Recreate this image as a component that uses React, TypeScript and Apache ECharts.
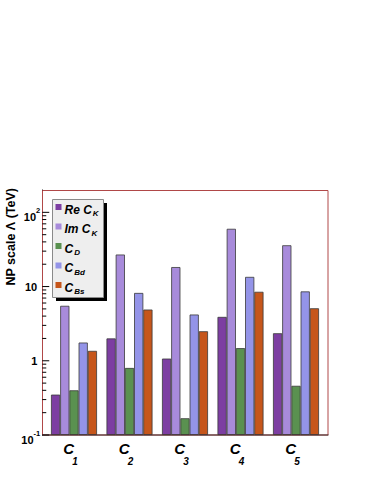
import React, { useEffect, useRef } from 'react';
import * as echarts from 'echarts';

// ---- data ----
const categories = ['C1', 'C2', 'C3', 'C4', 'C5'];
const categorySubscripts = ['1', '2', '3', '4', '5'];

const seriesNames = ['Re CK', 'Im CK', 'CD', 'CBd', 'CBs'];
const legendMainText = ['Re C', 'Im C', 'C', 'C', 'C'];
const legendSubText = ['K', 'K', 'D', 'Bd', 'Bs'];

const reCK = [0.35, 2.0, 1.07, 3.9, 2.35];
const imCK = [5.5, 27, 18.3, 60, 36];
const cD = [0.4, 0.8, 0.168, 1.48, 0.46];
const cBd = [1.76, 8.2, 4.2, 13.5, 8.6];
const cBs = [1.36, 4.9, 2.5, 8.5, 5.1];

const yMajorTickValues = [0.1, 1, 10, 100];
const yTickLabelBase = ['10', '1', '10', '10'];
const yTickLabelExp = ['-1', '', '', '2'];
const yMinorTickValues = [
  0.2, 0.3, 0.4, 0.5, 0.6, 0.7, 0.8, 0.9,
  2, 3, 4, 5, 6, 7, 8, 9,
  20, 30, 40, 50, 60, 70, 80, 90,
];

const yMin = 0.1;
const yMax = 200;
const yTitle = 'NP scale \u039B (TeV)';

// ---- style ----
const FONT = '"Liberation Sans", Arial, Helvetica, sans-serif';
const colors = ['#7d3ea2', '#a88bdb', '#5a9150', '#9494e8', '#c6561b'];
const seriesData = [reCK, imCK, cD, cBd, cBs];

export default function App() {
  const ref = useRef<HTMLDivElement>(null);

  useEffect(() => {
    if (!ref.current) return;
    const chart = echarts.init(ref.current, undefined, { renderer: 'svg' });

    const tickData: number[][] = [
      ...yMajorTickValues.map((v) => [0, v, 7]),
      ...yMinorTickValues.map((v) => [0, v, 4]),
    ];

    const option: any = {
      animation: false,
      backgroundColor: '#ffffff',
      textStyle: { fontFamily: FONT },
      grid: { left: 46.25, right: 50.25, top: 190, bottom: 49, containLabel: false },
      legend: {
        show: true,
        orient: 'vertical',
        left: 55.5,
        top: 200.5,
        padding: 0,
        itemGap: 2.5,
        itemWidth: 6,
        itemHeight: 6,
        icon: 'rect',
        z: 10,
        data: seriesNames,
        itemStyle: { borderWidth: 0 },
        formatter: (name: string) => {
          const i = seriesNames.indexOf(name);
          return `{b|${legendMainText[i]}}{s|${legendSubText[i]}}`;
        },
        textStyle: {
          fontFamily: FONT,
          color: '#000',
          padding: [0, 0, 0, -2],
          rich: {
            b: {
              fontFamily: FONT,
              fontSize: 12,
              fontWeight: 'bold',
              fontStyle: 'italic',
              color: '#000',
              lineHeight: 13,
              padding: [3, 0, 0, 0],
              verticalAlign: 'top',
            },
            s: {
              fontFamily: FONT,
              fontSize: 8,
              fontWeight: 'bold',
              fontStyle: 'italic',
              color: '#000',
              lineHeight: 8,
              padding: [9, 0, 0, 1],
              verticalAlign: 'top',
            },
          },
        },
      },
      xAxis: {
        type: 'category',
        data: categories,
        axisLine: { show: false },
        axisTick: { show: false },
        splitLine: { show: false },
        axisLabel: {
          margin: 6,
          interval: 0,
          formatter: (_v: string, i: number) => `{c|C}{n|${categorySubscripts[i]}}`,
          rich: {
            c: {
              fontFamily: FONT,
              fontSize: 15,
              fontWeight: 'bold',
              fontStyle: 'italic',
              color: '#000',
              lineHeight: 15,
              verticalAlign: 'top',
            },
            n: {
              fontFamily: FONT,
              fontSize: 10,
              fontWeight: 'bold',
              fontStyle: 'italic',
              color: '#000',
              lineHeight: 10,
              padding: [15, 7, 0, -2],
              verticalAlign: 'top',
            },
          },
        },
      },
      yAxis: {
        type: 'log',
        logBase: 10,
        min: yMin,
        max: yMax,
        startValue: yMin,
        offset: 4,
        axisLine: { show: true, lineStyle: { color: '#000', width: 1 } },
        axisTick: { show: false },
        splitLine: { show: false },
        axisLabel: {
          margin: 2,
          formatter: (v: number) => {
            const idx = yMajorTickValues.findIndex((t) => Math.abs(t - v) / t < 1e-6);
            if (idx < 0) return '';
            const exp = yTickLabelExp[idx];
            if (exp) return `{m|${yTickLabelBase[idx]}}{e|${exp}}`;
            return `{p|${yTickLabelBase[idx]}}`;
          },
          rich: {
            m: {
              fontFamily: FONT,
              fontSize: 11,
              fontWeight: 'bold',
              color: '#000',
              lineHeight: 11,
              padding: [5, 0, 0, 0],
              verticalAlign: 'top',
            },
            e: {
              fontFamily: FONT,
              fontSize: 7.5,
              fontWeight: 'bold',
              color: '#000',
              lineHeight: 8,
              verticalAlign: 'top',
            },
            p: {
              fontFamily: FONT,
              fontSize: 11,
              fontWeight: 'bold',
              color: '#000',
              lineHeight: 11,
              padding: [0, 3, 0, 0],
            },
          },
        },
      },
      graphic: [
        {
          type: 'rect',
          z: 1,
          silent: true,
          shape: { x: 42.5, y: 190.5, width: 285.5, height: 244.5 },
          style: { fill: 'none', stroke: '#b04848', lineWidth: 1 },
        },
        {
          type: 'line',
          z: 3,
          silent: true,
          shape: { x1: 42, y1: 435, x2: 328.5, y2: 435 },
          style: { stroke: '#3a2a2a', lineWidth: 1 },
        },
        {
          type: 'rect',
          z: 5,
          silent: true,
          shape: { x: 56, y: 203, width: 51, height: 98 },
          style: { fill: '#000' },
        },
        {
          type: 'rect',
          z: 6,
          silent: true,
          shape: { x: 52.5, y: 199.5, width: 51, height: 98 },
          style: { fill: '#eeeeee', stroke: '#8a8a8a', lineWidth: 1 },
        },
        {
          type: 'text',
          z: 6,
          silent: true,
          x: 11,
          y: 188,
          rotation: Math.PI / 2,
          style: {
            text: yTitle,
            fill: '#000',
            font: `bold 12.5px ${FONT}`,
            align: 'right',
            verticalAlign: 'middle',
            textAlign: 'right',
            textVerticalAlign: 'middle',
          },
        },
      ],
      series: [
        ...seriesNames.map((name, i) => ({
          name,
          type: 'bar',
          data: seriesData[i],
          barWidth: 9.2,
          barGap: '0%',
          z: 2,
          itemStyle: {
            color: colors[i],
            borderColor: '#3a3a3a',
            borderWidth: 0.8,
          },
        })),
        {
          type: 'custom',
          coordinateSystem: 'cartesian2d',
          silent: true,
          clip: false,
          z: 4,
          data: tickData,
          encode: { x: 0, y: 1 },
          renderItem: (params: any, api: any) => {
            const y = api.coord([0, api.value(1)])[1];
            const x0 = params.coordSys.x - 4;
            const len = api.value(2);
            return {
              type: 'line',
              shape: { x1: x0, y1: y, x2: x0 + len, y2: y },
              style: { stroke: '#000', lineWidth: 1 },
            };
          },
        },
      ],
    };

    chart.setOption(option);
    return () => {
      chart.dispose();
    };
  }, []);

  return (
    <div
      ref={ref}
      style={{ position: 'fixed', left: 0, top: 0, width: 374, height: 484, background: '#fff' }}
    />
  );
}
